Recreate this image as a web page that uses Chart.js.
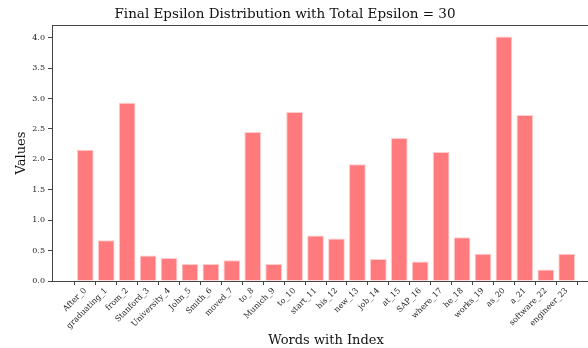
<!DOCTYPE html>
<html lang="en">
<head>
    <meta charset="UTF-8">
    <title>Final Epsilon Distribution</title>
    <script src="https://cdn.jsdelivr.net/npm/chart.js@4.4.0/dist/chart.umd.min.js"></script>
    <style>
        html, body { margin: 0; padding: 0; overflow: hidden; background: #fff; }
    </style>
</head>
<body>
<div style="width:600px;height:348px">
    <canvas id="eps-chart" width="600" height="348"></canvas>
</div>

<script>
    const words = ["After_0", "graduating_1", "from_2", "Stanford_3", "University_4", "John_5",
        "Smith_6", "moved_7", "to_8", "Munich_9", "to_10", "start_11", "his_12", "new_13",
        "job_14", "at_15", "SAP_16", "where_17", "he_18", "works_19", "as_20", "a_21",
        "software_22", "engineer_23"];
    const epsilons = [2.16, 0.67, 2.93, 0.42, 0.38, 0.28, 0.28, 0.34, 2.45, 0.28, 2.78, 0.75,
        0.70, 1.92, 0.36, 2.35, 0.32, 2.12, 0.72, 0.45, 4.02, 2.73, 0.19, 0.45];
    const yTicks = [0, 0.5, 1, 1.5, 2, 2.5, 3, 3.5, 4];
    const titleText = "Final Epsilon Distribution with Total Epsilon = 30";

    const serif = "'DejaVu Serif', serif";

    // matplotlib-like box round the plot, and the figure title (centred on the figure, not the axes)
    const frame = {
        id: 'frame',
        afterDraw(chart) {
            const a = chart.chartArea, ctx = chart.ctx;
            ctx.save();
            ctx.strokeStyle = '#444';
            ctx.lineWidth = 1;
            ctx.strokeRect(a.left + 0.5, a.top + 0.5, a.right - a.left, a.bottom - a.top);
            ctx.fillStyle = '#111';
            ctx.font = "13.5px " + serif;
            ctx.textAlign = 'center';
            ctx.textBaseline = 'middle';
            ctx.fillText(titleText, 285, 14);
            ctx.restore();
        }
    };

    new Chart("eps-chart", {
        type: "bar",
        data: {
            datasets: [{
                data: epsilons.map((v, i) => ({x: i, y: v})),
                backgroundColor: 'rgb(255,122,125)',
                borderColor: 'rgba(255,200,200,0.9)',
                borderWidth: 1,
                categoryPercentage: 1,
                barPercentage: 0.8
            }]
        },
        options: {
            responsive: false,
            animation: false,
            layout: { padding: { left: 0, right: 0, top: 25, bottom: 0 } },
            plugins: {
                legend: { display: false },
                tooltip: { enabled: false },
                title: { display: false }
            },
            scales: {
                x: {
                    type: 'linear',
                    offset: false,
                    min: -1.59,
                    max: 24.59,
                    afterBuildTicks: s => { s.ticks = words.map((w, i) => ({value: i})); },
                    afterFit: s => { s.height = 67; },
                    ticks: {
                        autoSkip: false,
                        maxRotation: 45,
                        minRotation: 45,
                        padding: 1,
                        color: '#222',
                        font: { family: serif, size: 8 },
                        callback: v => words[v]
                    },
                    grid: { drawOnChartArea: false, tickLength: 4, color: '#444' },
                    border: { color: '#444' },
                    title: {
                        display: true,
                        text: "Words with Index",
                        color: '#111',
                        font: { family: serif, size: 13 },
                        padding: { top: 0, bottom: 0 }
                    }
                },
                y: {
                    min: 0,
                    max: 4.21,
                    afterBuildTicks: s => { s.ticks = yTicks.map(v => ({value: v})); },
                    afterFit: s => { s.width = 52; },
                    ticks: {
                        padding: 3,
                        color: '#222',
                        font: { family: serif, size: 8 },
                        callback: v => v.toFixed(1)
                    },
                    grid: { drawOnChartArea: false, tickLength: 4, color: '#444' },
                    border: { color: '#444' },
                    title: {
                        display: true,
                        text: "Values",
                        color: '#111',
                        font: { family: serif, size: 13 },
                        padding: { top: 14, bottom: 4 }
                    }
                }
            }
        },
        plugins: [frame]
    });
</script>
</body>
</html>
